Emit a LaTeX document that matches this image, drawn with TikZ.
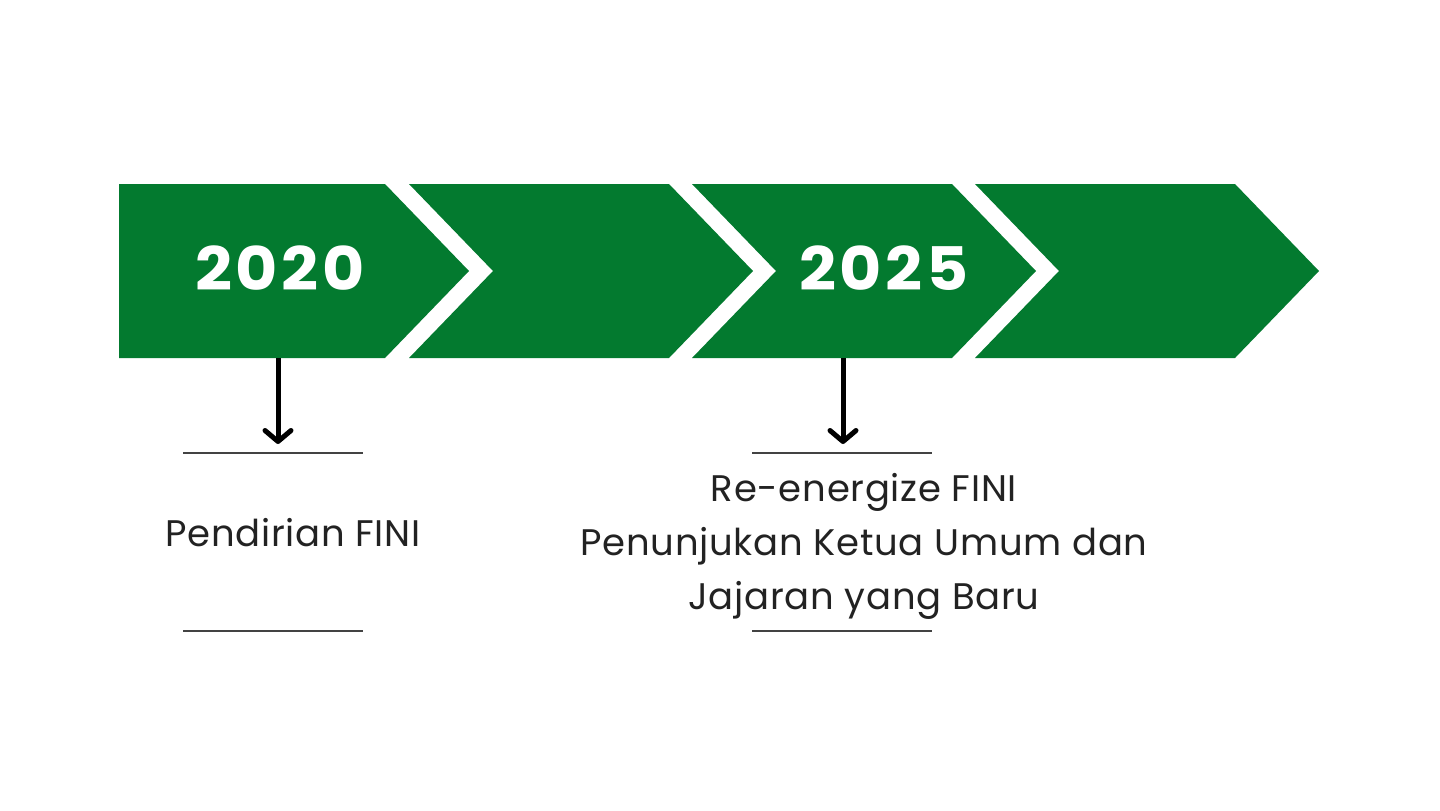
\documentclass[tikz,border=0pt]{standalone}
\usepackage{fontspec}
\setmainfont{Poppins}
\newfontfamily\yearfont{Poppins}[FakeStretch=1.08,LetterSpace=6]
\newfontfamily\notefont{Poppins}[LetterSpace=2]
\usetikzlibrary{arrows.meta}
\definecolor{fingreen}{RGB}{3,122,47}
\definecolor{inkgray}{RGB}{34,34,34}
\begin{document}
\begin{tikzpicture}
  [x=1pt,y=-1pt,every node/.style={inner sep=0pt}]
  \tikzstyle{chevron} = [fill=fingreen,draw=none]
  \tikzstyle{year} = [text=white,font=\fontsize{60}{60}\selectfont\yearfont\bfseries]
  \tikzstyle{note} = [text=inkgray,align=center,font=\fontsize{37}{54}\selectfont\notefont]
  \tikzstyle{rule} = [draw=inkgray!85,line width=2pt]
  \tikzstyle{pointer} = [draw=black,line width=5pt,-{Straight Barb[length=11pt,width=26pt,line width=5pt,round]}]
  \useasboundingbox (0,0) rectangle (1440,811);
  % first chevron has a flat back
  \fill[chevron] (119,184) -- (385,184) -- (469,271) -- (385,358) -- (119,358) -- cycle;
  \foreach \xa/\xb in {409/669,692/952,975/1235}
   \fill[chevron] (\xa,184) -- (\xb,184) -- (\xb+84,271) -- (\xb,358)
     -- (\xa,358) -- (\xa+84,271) -- cycle;
  \node[year] (y20) at (280,268) {2020};
  \node[year] (y25) at (884,268) {2025};
  \coordinate (a20) at (278,358);
  \coordinate (b20) at (278,444);
  \coordinate (a25) at (843,358);
  \coordinate (b25) at (843,444);
  \draw[pointer] (a20) -- (b20);
  \draw[pointer] (a25) -- (b25);
  \foreach \name/\x in {l/183,r/752} {
   \coordinate (\name t1) at (\x,453);
   \coordinate (\name t2) at (\x+180,453);
   \coordinate (\name b1) at (\x,631);
   \coordinate (\name b2) at (\x+180,631);
   \draw[rule] (\name t1) -- (\name t2);
   \draw[rule] (\name b1) -- (\name b2);
  }
  \node[note] (n20) at (293,533) {Pendirian FINI};
  \node[note] (n25) at (864,546) {Re-energize FINI\\Penunjukan Ketua Umum dan\\Jajaran yang Baru};
\end{tikzpicture}
\end{document}
